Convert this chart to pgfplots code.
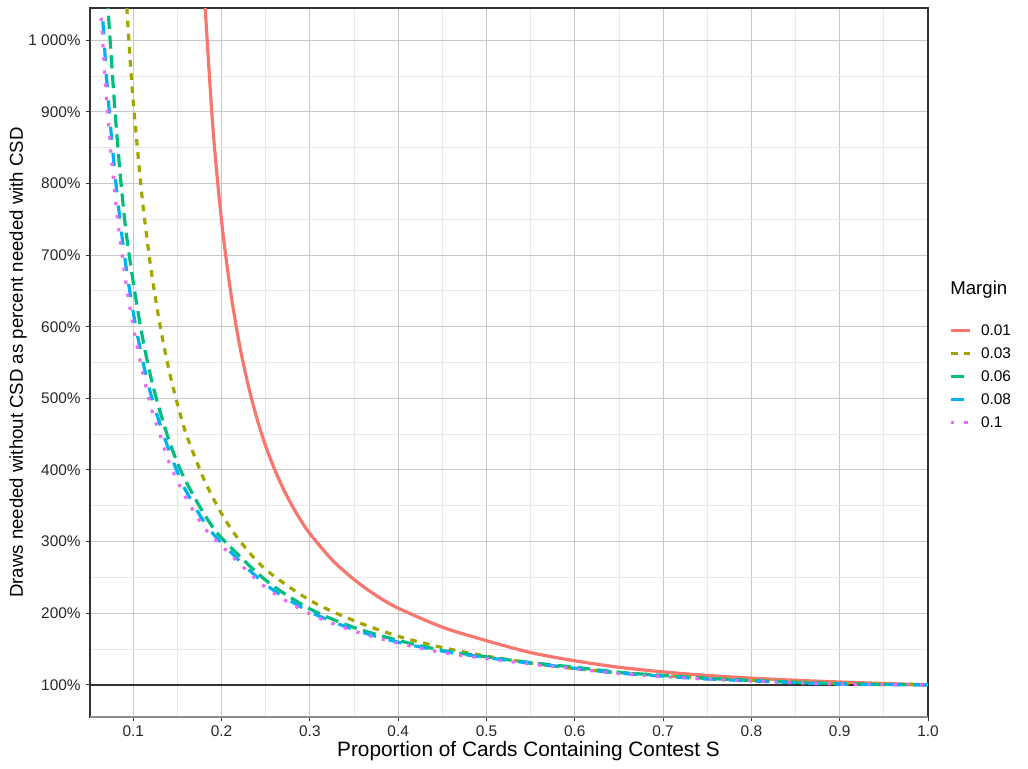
\documentclass[border=0pt]{standalone}
\usepackage{fontspec}
\setmainfont{Liberation Sans}
\usepackage{pgfplots}
\pgfplotsset{compat=1.18}
\definecolor{cA}{HTML}{F8766D}
\definecolor{cB}{HTML}{A3A500}
\definecolor{cC}{HTML}{00BF7D}
\definecolor{cD}{HTML}{00B0F6}
\definecolor{cE}{HTML}{E76BF3}
\definecolor{gmaj}{RGB}{200,200,200}
\definecolor{gmin}{RGB}{232,232,232}
\definecolor{frame}{RGB}{51,51,51}
\begin{document}
\begin{tikzpicture}
\useasboundingbox (-45pt,-25.5pt) rectangle (469pt,358.5pt);
\begin{axis}[
  at={(0,0)}, anchor=south west,
  scale only axis, width=419pt, height=354.5pt,
  xmin=0.051, xmax=1.0, ymin=55, ymax=1045,
  axis line style={draw=frame, line width=0.6pt},
  xtick={0.1,0.2,0.3,0.4,0.5,0.6,0.7,0.8,0.9,1.0},
  xticklabels={0.1,0.2,0.3,0.4,0.5,0.6,0.7,0.8,0.9,1.0},
  ytick={100,200,300,400,500,600,700,800,900,1000},
  yticklabels={100\%,200\%,300\%,400\%,500\%,600\%,700\%,800\%,900\%,1 000\%},
  minor xtick={0.05,0.15,0.25,0.35,0.45,0.55,0.65,0.75,0.85,0.95},
  minor ytick={150,250,350,450,550,650,750,850,950},
  grid=both,
  major grid style={draw=gmaj, line width=0.5pt},
  minor grid style={draw=gmin, line width=0.4pt},
  tick align=outside, major tick length=2pt, minor tick length=0pt,
  xtick pos=bottom, ytick pos=left,
  tick style={draw=frame, line width=0.5pt},
  /pgf/number format/assume math mode=true,
  ticklabel style={font=\fontsize{7.7}{9}\selectfont, text=black!85, inner sep=0pt},
  xticklabel style={anchor=north, yshift=-2.2pt},
  yticklabel style={anchor=east, xshift=-2.5pt},
  xlabel={Proportion of Cards Containing Contest S},
  xlabel style={font=\fontsize{10.4}{12}\selectfont, at={(axis description cs:0.5233,-0.0564)}, anchor=base, inner sep=0pt},
  ylabel={Draws needed without CSD as percent needed with CSD},
  ylabel style={font=\fontsize{9.3}{11}\selectfont, at={(axis description cs:-0.080,0.5)}, anchor=base, rotate=0, inner sep=0pt},
  legend style={at={(axis description cs:1.0251,0.5543)}, anchor=north west, draw=none, fill=none,
    font=\fontsize{7.7}{9}\selectfont, inner sep=0pt, row sep=0pt,
    nodes={inner sep=0pt, text height=5.75pt, text depth=5.75pt, anchor=base west}},
  legend cell align=left,
  legend image code/.code={\path[draw=none,fill=none] (0pt,0pt) -- (15pt,0pt); \draw[#1] (0pt,2.75pt) -- (9.5pt,2.75pt);},
  smooth, tension=0.5,
]
\addplot[frame, line width=0.75pt, forget plot, sharp plot] coordinates {(0.051,100) (1.0,100)};
\addplot[cA, line width=1.6pt] coordinates {
(0.18,1075) (0.19,881) (0.20,748) (0.21,651) (0.22,577) (0.23,519) (0.24,472) (0.25,433)
(0.26,401) (0.27,373.4) (0.28,349.8) (0.29,329.2) (0.30,311) (0.325,274.6) (0.35,247)
(0.375,224.7) (0.40,207) (0.45,180.5) (0.50,161.6) (0.55,145) (0.60,133.5) (0.65,124.5)
(0.70,118) (0.75,113) (0.80,109.3) (0.85,106.3) (0.90,103.9) (0.95,101.8) (1.00,100)};
\addlegendentry{0.01}
\addplot[cB, line width=1.6pt, dash pattern=on 3.3pt off 3.3pt] coordinates {
(0.09,1101) (0.095,1000) (0.10,914) (0.11,781) (0.12,681) (0.13,604) (0.14,542) (0.15,492)
(0.16,450) (0.18,387) (0.20,339) (0.22,302) (0.25,261) (0.30,218) (0.35,189.5) (0.40,167.8)
(0.45,152) (0.50,140) (0.55,130.5) (0.60,122.5) (0.65,117) (0.70,113) (0.75,109.3)
(0.80,106.5) (0.85,104) (0.90,102) (0.95,100.8) (1.00,100)};
\addlegendentry{0.03}
\addplot[cC, line width=1.6pt, dash pattern=on 6.6pt off 3.3pt] coordinates {
(0.068,1117) (0.07,1071) (0.08,890) (0.09,752) (0.10,662) (0.11,588) (0.12,529) (0.13,483)
(0.14,443) (0.15,410) (0.16,383) (0.18,339) (0.20,305) (0.25,246) (0.30,206) (0.35,180)
(0.40,162) (0.45,148) (0.50,139) (0.55,131) (0.60,124.5) (0.65,117.5) (0.70,113)
(0.75,109) (0.80,106) (0.85,103.4) (0.90,101.5) (0.95,100.4) (1.00,100)};
\addlegendentry{0.06}
\addplot[cD, line width=1.6pt, dash pattern=on 6.6pt off 6.6pt] coordinates {
(0.062,1100) (0.07,944) (0.08,804) (0.09,700) (0.10,620) (0.11,556) (0.12,505) (0.13,465)
(0.14,429) (0.15,397) (0.16,370) (0.18,328) (0.20,298) (0.25,240) (0.30,202) (0.35,177)
(0.40,159.5) (0.45,147) (0.50,138) (0.55,130) (0.60,123) (0.65,116.3) (0.70,112)
(0.75,108) (0.80,105.5) (0.85,102.9) (0.90,101) (0.95,100.3) (1.00,100)};
\addlegendentry{0.08}
\addplot[cE, line width=1.6pt, dash pattern=on 1.65pt off 4.95pt] coordinates {
(0.06,1105) (0.07,913) (0.08,775) (0.09,676) (0.10,600) (0.11,540) (0.12,488) (0.13,450)
(0.14,412) (0.15,385) (0.16,360) (0.18,320) (0.20,294) (0.25,236) (0.30,199) (0.35,175)
(0.40,158) (0.45,145) (0.50,136.5) (0.55,129) (0.60,122.3) (0.65,115.6) (0.70,111.5)
(0.75,107.8) (0.80,105.2) (0.85,102.7) (0.90,100.9) (0.95,100.2) (1.00,100)};
\addlegendentry{0.1}
\end{axis}
\draw[black!45, line width=1pt] (0pt,0pt) -- (419pt,0pt);
\node[anchor=base west, inner sep=0pt, font=\fontsize{9.3}{11}\selectfont] at (430pt,211.5pt) {Margin};
\end{tikzpicture}
\end{document}
